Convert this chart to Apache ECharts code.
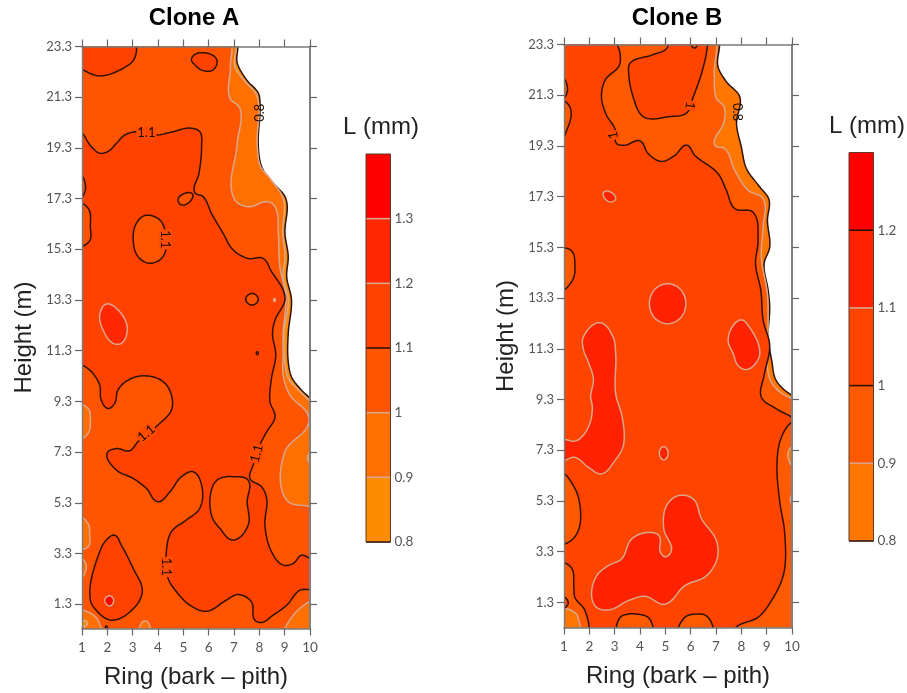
<!DOCTYPE html>
<html><head><meta charset="utf-8">
<style>html,body{margin:0;padding:0;background:#fff}#c{width:907px;height:693px}</style>
<script src="https://cdn.jsdelivr.net/npm/echarts@6/dist/echarts.min.js"></script>
</head><body><div id="c"></div>
<script>
// ---- tick labels ----
const ringTicks=[1,2,3,4,5,6,7,8,9,10];
const heightTicks=[1.3,3.3,5.3,7.3,9.3,11.3,13.3,15.3,17.3,19.3,21.3,23.3];
const legendALevels=[0.8,0.9,1,1.1,1.2,1.3];
const legendBLevels=[0.8,0.9,1,1.1,1.2];

// ---- Clone A contours: [ring, height] outlines, frame edges run just past the axis range ----
const A_domain=[[7.05,23.6],[7.13,22.64],[7.5,21.98],[7.96,21.46],[8.02,21.19],[7.96,19.35],[8.09,18.56],[8.42,18.04],[9.05,17.29],[9.01,15.93],[9.14,15.01],[9.08,14.22],[9.27,13.3],[9.14,11.98],[9.14,10.87],[9.27,10.27],[9.6,9.81],[10,9.42],[10.2,9.2],[10.2,0],[0.8,0],[0.8,23.6]];
const A_ge09=[[6.99,23.6],[7.03,22.51],[7.43,21.92],[7.89,21.39],[7.92,19.35],[8.05,18.56],[8.42,18.1],[8.94,17.29],[8.92,15.93],[9.01,15.01],[8.94,14.22],[9.14,13.3],[8.97,11.98],[9.01,10.87],[9.14,10.21],[9.54,9.75],[10.2,9],[10.2,0],[0.8,0],[0.8,23.6]];
const A_ge10=[[6.78,23.6],[6.86,22.51],[6.84,21.26],[7.23,20.87],[7.13,19.48],[7.03,17.25],[7.56,16.98],[8.35,17.18],[8.62,16.98],[8.75,15.93],[8.81,14.62],[9.05,13.43],[8.94,11.98],[8.94,11.13],[8.94,10.34],[9.21,9.55],[9.93,8.76],[9.93,8.37],[9.01,7.31],[9.08,5.4],[10.2,5],[10.2,0],[0.8,0],[0.8,23.6]];
const A_lowRight=[[8.9,0],[8.99,0.3],[9.6,1.13],[10.2,1.39],[10.3,0]];
const A_lowL1=[[0.8,9.16],[1.24,9.02],[1.33,8.56],[1.24,8.04],[0.8,7.8]];
const A_lowL2=[[0.8,4.75],[1.24,4.48],[1.3,4.09],[1.24,3.56],[0.8,3.52]];
const A_lowL3=[[0.8,3.14],[1.17,2.84],[0.8,2.28]];
const A_lowL4=[[0.8,1.04],[1.3,0.96],[1.63,0.67],[1.7,0],[0.8,0]];
const A_lowDot=[[0.99,0.54],[1.1,0.66],[1.22,0.54],[1.1,0.42]];
const A_lowB5=[[3.35,0],[3.34,0.54],[3.48,0.64],[3.63,0.54],[3.63,0]];
const A_lowR=[[10.2,7.3],[9.9,7.1],[10.2,6.8]];
const A_main=[[0.8,19.95],[1.37,19.35],[1.7,19.09],[2.03,19.16],[2.36,19.48],[2.69,19.81],[3.21,19.94],[3.94,19.81],[4.6,19.94],[5.26,20.08],[5.65,19.94],[5.72,19.35],[5.62,18.3],[5.45,17.54],[5.78,17.38],[6.11,16.72],[6.57,15.93],[6.97,15.27],[7.56,14.94],[8.15,14.94],[8.48,14.42],[8.94,13.69],[9.01,13.3],[8.62,12.51],[8.52,11.98],[8.65,11.13],[8.48,10.21],[8.42,9.29],[8.62,8.69],[8.29,8.1],[8.02,7.58],[7.76,6.79],[7.63,6.26],[8.09,5.93],[8.29,5.47],[8.22,4.42],[8.48,3.37],[8.94,2.84],[9.34,2.91],[9.67,3.23],[10,3.1],[10.2,3],[10.2,1.95],[9.6,1.85],[9.08,1.26],[8.55,0.87],[8.09,0.58],[7.82,0.67],[7.69,1.39],[7.17,1.68],[6.7,1.46],[5.91,1.02],[5.26,1.26],[4.73,1.79],[4.4,2.31],[4.33,3.37],[4.53,4.16],[5.12,4.62],[5.65,5.08],[5.72,6],[5.39,6.52],[4.93,6.33],[4.47,5.73],[4,5.34],[3.54,5.87],[3.02,6.26],[2.36,6.59],[1.99,7.25],[2.36,7.44],[2.88,7.35],[3.21,7.71],[4,8.37],[4.53,8.96],[4.53,9.55],[4.2,10.08],[3.48,10.31],[2.82,10.14],[2.42,9.75],[2.29,9.22],[2.03,9.02],[1.76,9.35],[1.7,9.94],[1.43,10.41],[0.8,11]];
const A_holeLow=[[6.18,6],[6.44,6.26],[6.97,6.33],[7.56,6.19],[7.52,5.34],[7.56,4.42],[6.97,3.83],[6.44,4.29],[6.11,4.81]];
const A_hole15=[[3.02,15.8],[3.15,16.33],[3.48,16.63],[4.07,16.46],[4.29,15.93],[4.2,15.01],[3.67,14.75],[3.21,15.01]];
const A_holeL1=[[0.8,18.3],[1.14,17.71],[0.8,17.25]];
const A_holeL2=[[0.8,17.12],[1.24,16.92],[1.33,16.19],[1.28,15.6],[0.8,15.44]];
const A_topLeft=[[0.8,23.6],[3.02,23.6],[3.08,22.84],[2.62,22.44],[1.7,22.14],[1.17,22.31],[0.8,22.6]];
const A_topMid=[[5.32,22.8],[5.58,23.04],[6.31,22.8],[6.18,22.38],[5.78,22.35],[5.45,22.58]];
const A_loop17=[[4.79,17.25],[4.99,17.48],[5.36,17.48],[5.26,17.18],[4.93,17.05]];
const A_lowerLeft=[[1.33,1.46],[1.7,3.37],[1.96,3.83],[2.29,4.02],[2.55,3.63],[3.02,2.71],[3.38,1.85],[3.15,1.26],[2.16,0.67],[1.5,1.13]];
const A_diamond=[[7.46,13.33],[7.72,13.56],[7.96,13.33],[7.72,13.1]];
const A_high12=[[1.7,12.71],[1.96,13.14],[2.42,12.91],[2.79,12.18],[2.55,11.59],[2.23,11.59],[1.83,12.12]];
const A_highDot=[[1.9,1.46],[2.09,1.63],[2.25,1.46],[2.09,1.23]];
const A_speck1=[[7.88,11.2],[7.92,11.26],[7.96,11.2],[7.92,11.14]];
const A_speck2=[[1.92,0.37],[1.96,0.44],[2,0.37],[1.96,0.3]];
const A_speck3=[[8.56,13.3],[8.6,13.36],[8.64,13.3],[8.6,13.24]];
// band floor, contour level, outline
const A_contours=[[0.8,0.8,A_domain],[0.9,0.9,A_ge09],[1,1,A_ge10],[0.9,1,A_lowRight],[0.9,1,A_lowL1],[0.9,1,A_lowL2],[0.9,1,A_lowL3],[0.9,1,A_lowL4],[0.8,0.9,A_lowDot],[0.9,1,A_lowB5],[0.8,0.9,A_lowR],
 [1.1,1.1,A_main],[1,1.1,A_holeLow],[1,1.1,A_hole15],[1,1.1,A_holeL1],[1,1.1,A_holeL2],[1.1,1.1,A_topLeft],[1.1,1.1,A_topMid],[1,1.1,A_loop17],[1.1,1.1,A_lowerLeft],[1,1.1,A_diamond],[1.2,1.2,A_high12],[1.3,1.2,A_highDot],[1,1.1,A_speck1],[1,1.1,A_speck2],[0.8,0.9,A_speck3]];
// ring, height, text, angle
const A_labels=[[3.54,19.88,'1.1',0],[4.29,15.69,'1.1',90],[8.02,20.69,'0.8',-90],[3.54,8.04,'1.1',-40],[7.89,7.25,'1.1',-75],[4.33,2.77,'1.1',90]];

// ---- Clone B contours ----
const B_domain=[[7.02,23.6],[7.08,22.42],[7.41,21.83],[7.94,21.23],[7.81,20.18],[8,19.26],[8.2,18.41],[8.73,17.68],[9.09,17.19],[9.03,16.37],[9.12,15.31],[8.9,14.66],[9.06,13.6],[9.12,12.94],[9.06,11.76],[9.21,10.77],[9.34,10.12],[9.65,9.72],[10,9.46],[10.2,9.3],[10.2,0],[0.8,0],[0.8,23.6]];
const B_ge09=[[6.86,23.6],[6.93,22.16],[7.02,21.17],[7.32,20.84],[7.32,20.25],[6.95,19.33],[7.35,19.19],[7.74,18.34],[8.27,17.55],[8.86,17.22],[8.86,16.1],[8.79,14.92],[9.03,13.47],[9.06,11.89],[9.12,10.12],[9.45,9.66],[10.2,9.1],[10.2,0],[0.8,0],[0.8,23.6]];
const B_lowR1=[[10.2,7.5],[9.84,7.2],[10.2,6.6]];
const B_lowR2=[[10.2,5.7],[9.94,5.3],[10.2,5.1]];
const B_main=[[2.84,23.6],[3.21,22.55],[2.62,21.89],[2.48,21.23],[2.68,20.51],[3.01,19.98],[3.08,19.39],[3.4,19.33],[4,19.5],[4.32,19],[4.85,18.69],[5.38,18.93],[5.84,19.33],[6.16,18.93],[7.08,18.21],[7.41,17.55],[7.74,16.83],[8.46,16.69],[8.66,15.58],[8.56,14.66],[8.77,13.6],[8.86,12.42],[9.12,11.43],[8.9,10.25],[8.79,9.39],[9.32,8.97],[10,8.6],[10.2,8.45],[10,8.41],[9.58,7.81],[9.41,6.83],[9.52,5.25],[9.71,4.06],[9.67,2.42],[9.19,1.37],[8.66,0.71],[7.87,0.38],[7.6,0.1],[7.4,-0.2],[0.8,-0.2],[0.8,23.6]];
const B_topPatch=[[5.2,23.6],[5.05,23.14],[4.46,22.88],[3.6,22.55],[3.56,22.09],[3.73,21.23],[4.06,20.51],[4.32,20.38],[5.11,20.45],[5.84,20.6],[6.1,21.23],[6.43,22.16],[6.66,23.21],[6.67,23.6]];
const B_topNick=[[5.99,23.6],[6.07,23.2],[6.19,23.17],[6.2,23.6]];
const B_lobeL1=[[0.8,22.05],[1.14,21.5],[0.8,21.1]];
const B_lobeL2=[[0.8,21.1],[1.23,20.84],[1.1,19.9],[0.8,19.5]];
const B_lobeL3=[[0.8,15.21],[1.28,15.18],[1.43,14.59],[1.33,14],[0.8,13.6]];
const B_lobeL4=[[0.8,6.4],[1.37,5.91],[1.66,4.66],[1.5,4],[1.17,3.67],[0.8,3.6]];
const B_lobeL5=[[0.8,2.85],[1.28,2.68],[1.39,1.89],[1.43,1.5],[1.83,0.97],[1.87,0],[0.8,0]];
const B_lowCorner=[[0.8,1],[1.43,0.9],[1.59,0.57],[1.6,0],[0.8,0]];
const B_dotL=[[0.8,1.55],[1.17,1.28],[0.8,1.05]];
const B_lobeB1=[[3.15,0],[3.21,0.7],[3.54,0.84],[3.86,0.84],[4.32,0.71],[4.52,0.31],[4.55,0]];
const B_lobeB2=[[5.55,0],[5.77,0.71],[6.23,0.84],[6.62,0.77],[6.89,0.3],[6.9,0]];
const B_high13=[[5.81,13.08],[5.6,13.64],[5.09,13.87],[4.58,13.64],[4.37,13.08],[4.58,12.52],[5.09,12.29],[5.6,12.52]];
const B_high17=[[2.55,17.44],[2.72,17.52],[3.04,17.22],[2.81,17.09]];
const B_high8=[[7.48,11.63],[7.68,12.22],[8,12.44],[8.27,12.22],[8.73,11.17],[8.6,10.77],[8.2,10.48],[7.87,10.64],[7.68,11.1]];
const B_highLeft=[[1.76,11.76],[2.42,12.33],[2.94,11.76],[3.04,11.1],[3.04,9.52],[3.3,8.6],[3.34,7.48],[3.01,6.89],[2.48,6.37],[1.96,6.63],[1.43,7.02],[0.8,6.9],[0.8,7.68],[1.5,7.68],[1.96,8.21],[2.12,9],[2.05,9.39],[2.16,10.12],[1.96,10.77],[1.76,11.3]];
const B_highDiamond=[[4.93,7.44],[4.76,7.22],[4.94,6.92],[5.11,7.22]];
const B_highBottom=[[2.09,1.56],[2.29,2.35],[2.75,2.75],[3.27,3.01],[3.67,3.8],[4.32,4.06],[4.75,3.93],[4.81,3.27],[5.01,3.1],[5.24,3.34],[4.94,4.19],[5.05,5.12],[5.51,5.51],[6.1,5.38],[6.43,4.59],[7.02,3.73],[7.04,3.01],[6.62,2.35],[5.77,1.96],[4.98,1.23],[4.19,1.54],[3.54,1.37],[2.81,1.01],[2.29,1.1]];
const B_contours=[[0.8,0.8,B_domain],[0.9,0.9,B_ge09],[0.8,0.9,B_lowR1],[0.8,0.9,B_lowR2],[1,1,B_main],[1,1,B_topPatch],[0.9,1,B_topNick],[0.9,1,B_lobeL1],[0.9,1,B_lobeL2],[0.9,1,B_lobeL3],[0.9,1,B_lobeL4],[0.9,1,B_lobeL5],[0.8,0.9,B_lowCorner],[1,1,B_dotL],[0.9,1,B_lobeB1],[0.9,1,B_lobeB2],
 [1.1,1.1,B_high13],[1.1,1.1,B_high17],[1.1,1.1,B_high8],[1.1,1.1,B_highLeft],[1.1,1.1,B_highDiamond],[1.1,1.1,B_highBottom]];
const B_labels=[[2.94,19.72,'1',-100],[5.97,20.9,'1',100],[7.85,20.64,'0.8',90]];

// ---- styling lookups ----
const bandA={0.8:'#ff8c00',0.9:'#ff7000',1:'#ff5500',1.1:'#ff4200',1.2:'#ff2800',1.3:'#ff0000'};
const bandB={0.8:'#ff7700',0.9:'#ff5a00',1:'#ff4400',1.1:'#ff2200',1.2:'#ff0000'};
const darkA=[0.8,1.1], darkB=[0.8,1,1.2];
const DARK='#2e1206', LIGHT='#d8a68c';
const lineColor=(lev,dark)=>dark.includes(lev)?DARK:LIGHT;

// rounds an outline by cubic segments whose handles follow the neighbouring chords
function rounded(pts){
  const n=pts.length,out=[];
  const unit=(a,b)=>{const dx=b[0]-a[0],dy=b[1]-a[1],l=Math.hypot(dx,dy)||1;return [dx/l,dy/l,l];};
  const dirs=pts.map((p,i)=>{const u=unit(pts[(i-1+n)%n],p),v=unit(p,pts[(i+1)%n]);
    const dx=u[0]+v[0],dy=u[1]+v[1],l=Math.hypot(dx,dy)||1;return [dx/l,dy/l];});
  for(let i=0;i<n;i++){
    const a=pts[i],b=pts[(i+1)%n],L=unit(a,b)[2]/3,da=dirs[i],db=dirs[(i+1)%n];
    const c1=[a[0]+da[0]*L,a[1]+da[1]*L],c2=[b[0]-db[0]*L,b[1]-db[1]*L];
    for(let k=0;k<10;k++){const t=k/10,s=1-t;
      out.push([s*s*s*a[0]+3*s*s*t*c1[0]+3*s*t*t*c2[0]+t*t*t*b[0],
                s*s*s*a[1]+3*s*s*t*c1[1]+3*s*t*t*c2[1]+t*t*t*b[1]]);}
  }
  return out;
}
function contourSeries(idx,contours,band,dark){
  return {type:'custom',xAxisIndex:idx,yAxisIndex:idx,clip:true,silent:true,z:2,
    data:contours.map((c,i)=>[i]),
    renderItem(p,api){
      const c=contours[api.value(0)];
      return {type:'polygon',shape:{points:rounded(c[2].map(q=>api.coord(q)))},
        style:{fill:band[c[0]],stroke:lineColor(c[1],dark),lineWidth:1.5,lineJoin:'round'}};
    }};
}
function labelSeries(idx,labels){
  return {type:'custom',xAxisIndex:idx,yAxisIndex:idx,clip:false,silent:true,z:3,
    data:labels.map((l,i)=>[i]),
    renderItem(p,api){
      const l=labels[api.value(0)], pt=api.coord([l[0],l[1]]);
      return {type:'text',x:pt[0],y:pt[1],rotation:-l[3]*Math.PI/180,
        style:{text:l[2],font:'13px Lato',fill:'#1a0a00',align:'center',verticalAlign:'middle',
          backgroundColor:l[2]==='0.8'?'transparent':'#ff4c00',padding:[0,1]}};
    }};
}
function legendSeries(idx,levels,band,dark){
  return {type:'custom',xAxisIndex:idx,yAxisIndex:idx,clip:false,silent:true,z:2,
    data:levels.map(l=>[l]),
    renderItem(p,api){
      const lo=api.value(0);
      const a=api.coord([0,lo]), b=api.coord([1,+(lo+0.1).toFixed(1)]);
      return {type:'group',children:[
        {type:'rect',shape:{x:a[0],y:b[1],width:b[0]-a[0],height:a[1]-b[1]},style:{fill:band[lo]}},
        {type:'line',shape:{x1:a[0],y1:a[1],x2:b[0],y2:a[1]},style:{stroke:lineColor(lo,dark),lineWidth:1.6},z2:2}
      ]};
    }};
}
function legendFrame(idx){
  return {type:'custom',xAxisIndex:idx,yAxisIndex:idx,clip:false,silent:true,z:3,data:[[0]],
    renderItem(p,api){
      const a=api.coord([0,0.8]), ext=api.coord([1,idx===2?1.4:1.3]);
      return {type:'rect',shape:{x:a[0],y:ext[1],width:ext[0]-a[0],height:a[1]-ext[1]},
        style:{fill:'none',stroke:'#5a3a2a',lineWidth:1}};
    }};
}
const AXC='#7a7a7a', TXT='#555';
const ringAxis=(g,pos,lab)=>({type:'value',gridIndex:g,position:pos,min:1,max:10,interval:1,z:5,
  axisLine:{onZero:false,lineStyle:{color:AXC,width:1.6}},axisTick:{show:true,length:7,lineStyle:{color:'#666',width:1.2}},
  splitLine:{show:false},
  axisLabel:{show:lab,margin:12,color:TXT,fontFamily:'Lato',fontSize:13.5,formatter:v=>ringTicks.includes(v)?String(v):''},
  name:lab?'Ring (bark – pith)':'',nameLocation:'middle',nameGap:37,
  nameTextStyle:{fontFamily:'Liberation Sans',fontSize:24,color:'#222'}});
const heightAxis=(g,pos,lab,minV)=>({type:'value',gridIndex:g,position:pos,min:minV,max:23.3,z:5,
  axisLine:{onZero:false,lineStyle:{color:pos==='right'?'#808080':AXC,width:pos==='right'?2:1.4}},
  axisTick:{show:true,length:7,customValues:heightTicks,lineStyle:{color:'#666',width:1.2}},
  splitLine:{show:false},
  axisLabel:{show:lab,margin:10,color:TXT,fontFamily:'Lato',fontSize:13,customValues:heightTicks,formatter:v=>v.toFixed(1)},
  name:lab?'Height (m)':'',nameLocation:'middle',nameGap:46,
  nameTextStyle:{fontFamily:'Liberation Sans',fontSize:24,color:'#222'}});
const legendY=(g,maxV,ticks)=>({type:'value',gridIndex:g,position:'right',min:0.8,max:maxV,interval:0.1,
  axisLine:{show:false},axisTick:{show:false},splitLine:{show:false},
  axisLabel:{margin:4,color:TXT,fontFamily:'Lato',fontSize:13.5,showMaxLabel:false,formatter:v=>{const r=+v.toFixed(1);return ticks.includes(r)?String(r):'';}}});
const legendX=g=>({type:'value',gridIndex:g,min:0,max:1,show:false});

const option={
  animation:false,backgroundColor:'#fff',
  title:[
    {text:'Clone A',left:189,top:1,textAlign:'center',textStyle:{fontFamily:'Liberation Sans',fontWeight:'bold',fontSize:24,color:'#000'}},
    {text:'Clone B',left:672,top:1,textAlign:'center',textStyle:{fontFamily:'Liberation Sans',fontWeight:'bold',fontSize:24,color:'#000'}},
    {text:'L (mm)',left:376,top:110,textAlign:'center',textStyle:{fontFamily:'Liberation Sans',fontWeight:'normal',fontSize:24,color:'#222'}},
    {text:'L (mm)',left:862,top:109,textAlign:'center',textStyle:{fontFamily:'Liberation Sans',fontWeight:'normal',fontSize:24,color:'#222'}}
  ],
  grid:[
    {left:82,top:46.5,width:228,height:582,outerBoundsMode:'none'},
    {left:564,top:44.5,width:228,height:583,outerBoundsMode:'none'},
    {left:366,top:154,width:24.5,height:388,outerBoundsMode:'none'},
    {left:849,top:152.5,width:24.5,height:388.5,outerBoundsMode:'none'}
  ],
  xAxis:[ringAxis(0,'bottom',true),ringAxis(1,'bottom',true),legendX(2),legendX(3),ringAxis(0,'top',false),ringAxis(1,'top',false)],
  yAxis:[heightAxis(0,'left',true,0.34),heightAxis(1,'left',true,0.31),legendY(2,1.4,legendALevels),legendY(3,1.3,legendBLevels),heightAxis(0,'right',false,0.34),heightAxis(1,'right',false,0.31)],
  series:[
    contourSeries(0,A_contours,bandA,darkA),labelSeries(0,A_labels),
    contourSeries(1,B_contours,bandB,darkB),labelSeries(1,B_labels),
    legendSeries(2,legendALevels,bandA,darkA),legendFrame(2),
    legendSeries(3,legendBLevels,bandB,darkB),legendFrame(3)
  ]
};
echarts.init(document.getElementById('c'),null,{renderer:'canvas'}).setOption(option);
</script></body></html>
